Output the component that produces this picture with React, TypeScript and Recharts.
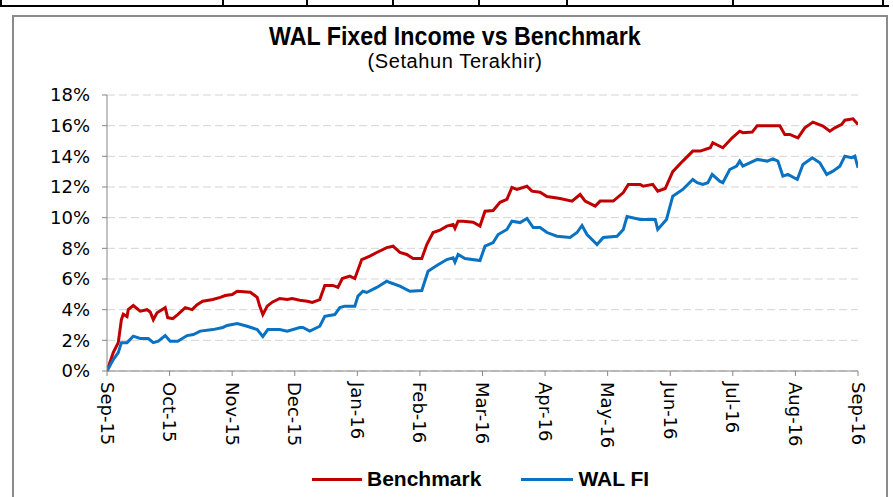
import { CartesianGrid, Legend, Line, LineChart, XAxis, YAxis } from 'recharts';

const monthLabels = [
  'Sep-15', 'Oct-15', 'Nov-15', 'Dec-15', 'Jan-16', 'Feb-16', 'Mar-16',
  'Apr-16', 'May-16', 'Jun-16', 'Jul-16', 'Aug-16', 'Sep-16',
];
const yTicks = [0, 2, 4, 6, 8, 10, 12, 14, 16, 18];

// posisi dalam bulan sejak Sep-15 (0 = Sep-15, 12 = Sep-16)
const benchX = [
  0, 0.1, 0.18, 0.23, 0.26, 0.32, 0.34, 0.42, 0.53, 0.64, 0.69, 0.74, 0.8, 0.93, 0.97,
  1.05, 1.13, 1.25, 1.36, 1.44, 1.53, 1.69, 1.81, 1.89, 2.0, 2.08, 2.29, 2.4, 2.44, 2.49,
  2.56, 2.64, 2.76, 2.88, 2.96, 3.08, 3.2, 3.28, 3.4, 3.48, 3.61, 3.69, 3.76, 3.88, 3.96,
  4.07, 4.2, 4.31, 4.47, 4.57, 4.68, 4.79, 4.89, 5.03, 5.11, 5.21, 5.32, 5.43, 5.53, 5.56,
  5.61, 5.69, 5.85, 5.96, 6.04, 6.17, 6.28, 6.39, 6.47, 6.55, 6.71, 6.79, 6.92, 7.03, 7.24,
  7.43, 7.56, 7.64, 7.8, 7.88, 8.09, 8.25, 8.33, 8.52, 8.57, 8.72, 8.8, 8.92, 9.04, 9.2,
  9.36, 9.48, 9.64, 9.68, 9.84, 9.99, 10.11, 10.16, 10.31, 10.39, 10.75, 10.83, 10.91, 11.04,
  11.15, 11.28, 11.44, 11.55, 11.63, 11.74, 11.79, 11.92, 12,
];
const benchVals = [
  0, 1.2, 1.85, 3.35, 3.7, 3.55, 4.0, 4.27, 3.9, 4.0, 3.85, 3.35, 3.8, 4.13, 3.48,
  3.42, 3.68, 4.13, 4.0, 4.33, 4.55, 4.66, 4.8, 4.92, 4.99, 5.2, 5.14, 4.8, 4.23, 3.68,
  4.23, 4.49, 4.73, 4.66, 4.73, 4.62, 4.55, 4.47, 4.66, 5.58, 5.58, 5.45, 6.03, 6.19, 6.03,
  7.27, 7.49, 7.73, 8.05, 8.14, 7.73, 7.6, 7.34, 7.34, 8.25, 9.03, 9.18, 9.45, 9.56, 9.3,
  9.77, 9.77, 9.7, 9.45, 10.42, 10.47, 11.0, 11.19, 11.97, 11.84, 12.05, 11.73, 11.66, 11.38, 11.25,
  11.08, 11.51, 11.08, 10.75, 11.08, 11.08, 11.64, 12.17, 12.17, 12.05, 12.17, 11.73, 11.9, 13.0, 13.69,
  14.34, 14.34, 14.56, 14.89, 14.56, 15.21, 15.64, 15.54, 15.58, 16.0, 16.0, 15.43, 15.43, 15.21,
  15.86, 16.23, 15.97, 15.64, 15.86, 16.08, 16.36, 16.45, 16.08,
];

const walX = [
  0, 0.1, 0.18, 0.23, 0.32, 0.42, 0.53, 0.66, 0.74, 0.82, 0.93, 1.01, 1.13, 1.28, 1.38,
  1.49, 1.69, 1.85, 1.92, 2.08, 2.24, 2.4, 2.49, 2.57, 2.76, 2.88, 3.08, 3.13, 3.24, 3.4,
  3.48, 3.64, 3.72, 3.8, 3.96, 4.01, 4.09, 4.15, 4.31, 4.47, 4.52, 4.68, 4.84, 5.03, 5.13,
  5.27, 5.43, 5.53, 5.56, 5.61, 5.72, 5.96, 6.04, 6.17, 6.25, 6.39, 6.47, 6.6, 6.71, 6.81,
  6.92, 7.03, 7.19, 7.4, 7.51, 7.59, 7.67, 7.83, 7.93, 8.15, 8.25, 8.31, 8.52, 8.76, 8.8,
  8.94, 9.04, 9.2, 9.36, 9.43, 9.52, 9.6, 9.67, 9.79, 9.84, 9.95, 10.06, 10.11, 10.16, 10.39,
  10.55, 10.64, 10.72, 10.8, 10.88, 11.03, 11.12, 11.27, 11.39, 11.5, 11.6, 11.71, 11.79, 11.9,
  11.95, 12,
];
const walVals = [
  0, 0.75, 1.2, 1.85, 1.85, 2.27, 2.12, 2.12, 1.85, 1.94, 2.31, 1.94, 1.94, 2.31, 2.38,
  2.6, 2.7, 2.84, 2.97, 3.1, 2.92, 2.7, 2.25, 2.7, 2.7, 2.6, 2.84, 2.84, 2.6, 2.92,
  3.57, 3.68, 4.14, 4.23, 4.23, 4.88, 5.2, 5.12, 5.45, 5.86, 5.77, 5.53, 5.2, 5.25, 6.51,
  6.88, 7.27, 7.38, 7.1, 7.6, 7.34, 7.2, 8.14, 8.38, 8.9, 9.23, 9.77, 9.68, 9.95, 9.36,
  9.36, 9.03, 8.79, 8.71, 9.03, 9.49, 8.9, 8.25, 8.71, 8.79, 9.23, 10.08, 9.88, 9.88, 9.23,
  9.88, 11.4, 11.84, 12.49, 12.28, 12.17, 12.28, 12.82, 12.38, 12.28, 13.14, 13.36, 13.69, 13.36, 13.8,
  13.69, 13.84, 13.69, 12.71, 12.82, 12.49, 13.47, 13.91, 13.58, 12.82, 13.03, 13.36, 14.01, 13.91,
  14.01, 13.26,
];

const benchData = benchX.map((m, i) => ({ m, v: benchVals[i] }));
const walData = walX.map((m, i) => ({ m, v: walVals[i] }));

const RED = '#C00000';
const BLUE = '#0A72C2';
const tickFont = "'DejaVu Sans', Verdana, sans-serif";
const narrowFont = "'Liberation Sans Narrow', 'Arial Narrow', Arial, sans-serif";

const tableEdges = [0, 222, 306, 392, 478, 566, 732, 882];

const MonthTick = (props: any) => {
  const { x, y, payload } = props;
  return (
    <text
      x={x}
      y={y}
      dy="0.36em"
      transform={`rotate(90, ${x}, ${y})`}
      textAnchor="start"
      fontFamily={tickFont}
      fontSize={18}
      fill="#000">
      {monthLabels[payload.value]}
    </text>
  );
};

const LegendContent = () => (
  <div
    style={{
      display: 'flex',
      alignItems: 'center',
      paddingLeft: 312,
      fontFamily: narrowFont,
      fontWeight: 'bold',
      fontSize: 21,
      color: '#000',
    }}>
    <span style={{ width: 50, height: 3, background: RED, marginRight: 5 }} />
    <span style={{ marginRight: 40 }}>Benchmark</span>
    <span style={{ width: 52, height: 3, background: BLUE, marginRight: 5 }} />
    <span>WAL FI</span>
  </div>
);

export default function App() {
  return (
    <div
      style={{
        position: 'absolute',
        left: 0,
        top: 0,
        width: 893,
        height: 497,
        overflow: 'hidden',
        background: '#fff',
      }}>
      {/* sisa tabel di atas grafik */}
      <div
        style={{
          position: 'absolute',
          left: 0,
          top: 5,
          width: 889,
          height: 2,
          background: '#000',
        }}
      />
      {tableEdges.map((x) => (
        <div
          key={x}
          style={{
            position: 'absolute',
            left: x,
            top: 0,
            width: 2,
            height: 7,
            background: '#000',
          }}
        />
      ))}
      <div
        style={{
          position: 'absolute',
          left: 12,
          top: 15,
          width: 872,
          height: 500,
          border: '2px solid #8a8a8a',
        }}
      />
      <div
        style={{
          position: 'absolute',
          left: 0,
          top: 22,
          width: 910,
          textAlign: 'center',
          fontFamily: narrowFont,
          fontWeight: 'bold',
          fontSize: 25,
          color: '#000',
        }}>
        <span style={{ display: 'inline-block', transform: 'scaleX(0.93)' }}>
          WAL Fixed Income vs Benchmark
        </span>
      </div>
      <div
        style={{
          position: 'absolute',
          left: 0,
          top: 50,
          width: 910,
          textAlign: 'center',
          fontFamily: narrowFont,
          fontSize: 20,
          letterSpacing: 0.6,
          color: '#000',
        }}>
        (Setahun Terakhir)
      </div>
      <div style={{ position: 'absolute', left: 0, top: 0 }}>
        <LineChart
          width={893}
          height={497}
          margin={{ top: 95, right: 35, bottom: 45, left: 47 }}>
          <CartesianGrid
            vertical={false}
            stroke="#d4d4d4"
            strokeDasharray="8 4"
          />
          <XAxis
            type="number"
            dataKey="m"
            domain={[0, 12]}
            ticks={[0, 1, 2, 3, 4, 5, 6, 7, 8, 9, 10, 11, 12]}
            allowDataOverflow
            height={81}
            stroke="#868686"
            tickSize={5}
            tickMargin={6}
            tick={<MonthTick />}
          />
          <YAxis
            type="number"
            domain={[0, 18]}
            ticks={yTicks}
            width={60}
            stroke="#868686"
            tickSize={5}
            tickMargin={12}
            tickFormatter={(v) => `${v}%`}
            tick={{ fontFamily: tickFont, fontSize: 18, fill: '#000' }}
          />
          <Legend
            verticalAlign="middle"
            align="center"
            content={<LegendContent />}
            wrapperStyle={{ top: 467, left: 0, width: 893 }}
          />
          <Line
            data={benchData}
            dataKey="v"
            name="Benchmark"
            stroke={RED}
            strokeWidth={3}
            dot={false}
            isAnimationActive={false}
          />
          <Line
            data={walData}
            dataKey="v"
            name="WAL FI"
            stroke={BLUE}
            strokeWidth={3}
            dot={false}
            isAnimationActive={false}
          />
        </LineChart>
      </div>
    </div>
  );
}
